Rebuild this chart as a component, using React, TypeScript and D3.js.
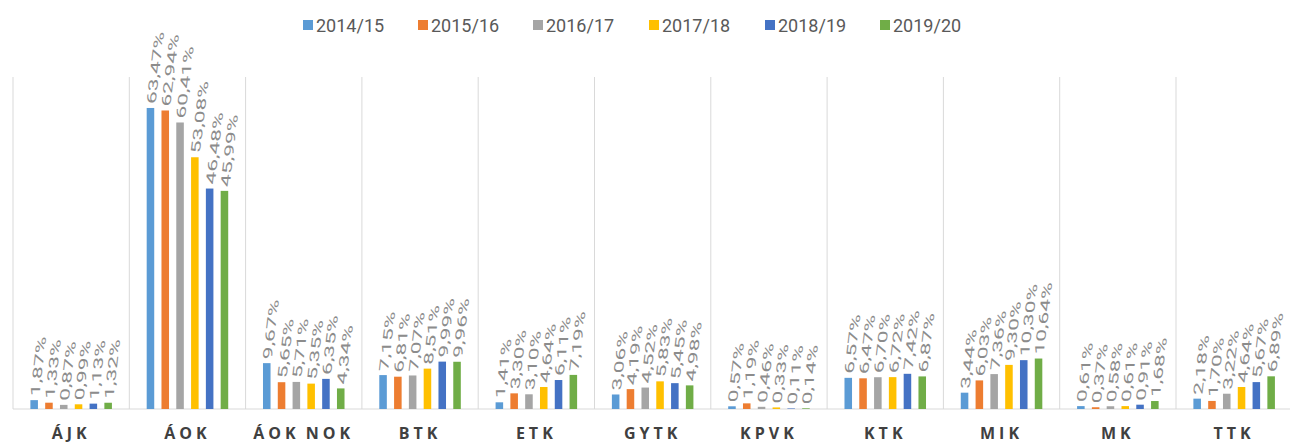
import React from "react";
import * as d3 from "d3";

const categories = ["ÁJK", "ÁOK", "ÁOK NOK", "BTK", "ETK", "GYTK", "KPVK", "KTK", "MIK", "MK", "TTK"];
const seriesNames = ["2014/15", "2015/16", "2016/17", "2017/18", "2018/19", "2019/20"];
const colors = ["#5B9BD5", "#ED7D31", "#A5A5A5", "#FFC000", "#4472C4", "#70AD47"];

const s2014 = [1.87, 63.47, 9.67, 7.15, 1.41, 3.06, 0.57, 6.57, 3.44, 0.61, 2.18];
const s2015 = [1.33, 62.94, 5.65, 6.81, 3.30, 4.19, 1.19, 6.47, 6.03, 0.37, 1.70];
const s2016 = [0.87, 60.41, 5.71, 7.07, 3.10, 4.52, 0.46, 6.70, 7.36, 0.58, 3.22];
const s2017 = [0.99, 53.08, 5.35, 8.51, 4.64, 5.83, 0.33, 6.72, 9.30, 0.61, 4.64];
const s2018 = [1.13, 46.48, 6.35, 9.99, 6.11, 5.45, 0.11, 7.42, 10.30, 0.91, 5.67];
const s2019 = [1.32, 45.99, 4.34, 9.96, 7.19, 4.98, 0.14, 6.87, 10.64, 1.68, 6.89];
const seriesValues = [s2014, s2015, s2016, s2017, s2018, s2019];

const W = 1290;
const H = 445;

export default function App() {
  const left = 13;
  const catW = 116.3;
  const x0 = d3.scaleBand<string>().domain(categories).range([left, left + catW * categories.length]);
  const x1 = d3.scaleBand<string>().domain(seriesNames).range([0, x0.bandwidth()]).paddingInner(0.49).paddingOuter(1.175);
  const y = d3.scaleLinear().domain([0, 70]).range([409, 77]);
  const fmt = d3.format(".2f");
  const label = (v: number) => fmt(v).replace(".", ",") + "%";
  const k1 = 1.75;
  const lean = 0.12;
  const legendX = [303, 418, 533, 649, 765, 880];
  const catSpacing = 4;

  return (
    <svg width={W} height={H} style={{ position: "absolute", left: 0, top: 0, background: "#fff" }}>
      {categories.map((c) => (
        <line key={"sep" + c} x1={x0(c)!} x2={x0(c)!} y1={y(70)} y2={y(0)} stroke="#d9d9d9" strokeWidth={1} />
      ))}
      <line x1={left} x2={W} y1={y(0)} y2={y(0)} stroke="#d9d9d9" strokeWidth={1} />
      {seriesNames.map((s, si) =>
        categories.map((c, ci) => {
          const v = seriesValues[si][ci];
          const bx = x0(c)! + x1(s)!;
          return (
            <rect key={s + c} x={bx} y={y(v)} width={x1.bandwidth()} height={y(0) - y(v)} fill={colors[si]} />
          );
        })
      )}
      {seriesNames.map((s, si) =>
        categories.map((c, ci) => {
          const v = seriesValues[si][ci];
          const cx = x0(c)! + x1(s)! + x1.bandwidth() / 2 + 5;
          const ty = y(v) - 4;
          return (
            <text
              key={"l" + s + c}
              transform={`matrix(${lean * k1},${-k1},1,0,${cx},${ty})`}
              fontFamily="Roboto, 'Noto Sans', sans-serif"
              fontSize={13}
              fill="#8c8c8c"
            >
              {label(v)}
            </text>
          );
        })
      )}
      {categories.map((c) => (
        <text
          key={"c" + c}
          x={x0(c)! + x0.bandwidth() / 2}
          y={439}
          textAnchor="middle"
          fontFamily="'Open Sans', 'Noto Sans', sans-serif"
          fontWeight="bold"
          fontSize={16}
          letterSpacing={catSpacing}
          wordSpacing={-2}
          fill="#404040"
        >
          {c}
        </text>
      ))}
      {seriesNames.map((s, i) => (
        <g key={"lg" + s}>
          <rect x={legendX[i]} y={20} width={10} height={10} fill={colors[i]} />
          <text x={legendX[i] + 13} y={32} fontFamily="Roboto, 'Noto Sans', sans-serif" fontSize={18} fill="#595959">
            {s}
          </text>
        </g>
      ))}
    </svg>
  );
}
